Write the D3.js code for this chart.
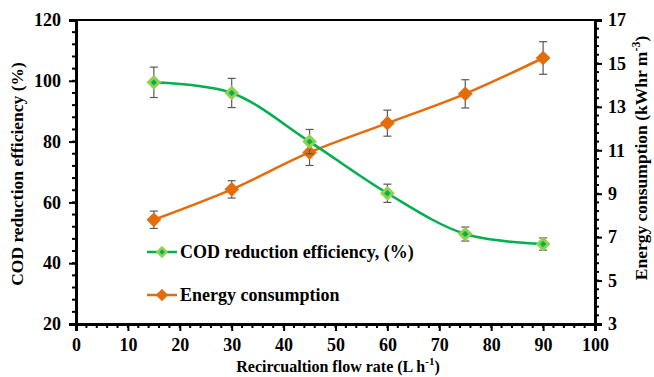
<!DOCTYPE html>
<html>
<head>
<meta charset="utf-8">
<script src="https://cdn.jsdelivr.net/npm/d3@7"></script>
<style>
  body { margin: 0; background: #fff; }
  text { font-family: "Liberation Serif", "Times New Roman", serif; font-weight: bold; }
</style>
</head>
<body>
<svg id="chart" width="654" height="377"></svg>
<script>
// flow rate (L h-1)
var flowRates = [15, 30, 45, 60, 75, 90];
// COD reduction efficiency (%) and its error
var codValues = [99.5, 96, 80, 63, 49.6, 46.3];
var codErrors = [5, 4.8, 4, 3, 2.3, 2];
// energy consumption (kWhr m-3) and its error
var energyValues = [7.8, 9.2, 10.9, 12.25, 13.6, 15.25];
var energyErrors = [0.4, 0.4, 0.6, 0.6, 0.65, 0.75];

var xTicks = [0, 10, 20, 30, 40, 50, 60, 70, 80, 90, 100];
var yLeftTicks = [20, 40, 60, 80, 100, 120];
var yRightTicks = [3, 5, 7, 9, 11, 13, 15, 17];

var margin = {left: 76, right: 59, top: 20, bottom: 53};
var width = 654, height = 377;
var svg = d3.select("#chart");

var x = d3.scaleLinear().domain([0, 100]).range([margin.left, width - margin.right]);
var yL = d3.scaleLinear().domain([20, 120]).range([height - margin.bottom, margin.top]);
var yR = d3.scaleLinear().domain([3, 17]).range([height - margin.bottom, margin.top]);

var green = "#00b050", lightGreen = "#92d050", orange = "#e46c0a", errGray = "#595959";

// top border
svg.append("line")
  .attr("x1", x(0)).attr("x2", x(100))
  .attr("y1", yL(120)).attr("y2", yL(120))
  .attr("stroke", "#000").attr("stroke-width", 2);

// minor ticks
var minorX = d3.range(0, 100.01, 2);
var minorL = d3.range(20, 120.01, 4);
var minorR = d3.range(3, 17.01, 0.4);

svg.append("g").selectAll("line").data(minorX).join("line")
  .attr("x1", function(d) { return x(d); }).attr("x2", function(d) { return x(d); })
  .attr("y1", yL(20)).attr("y2", yL(20) + 4)
  .attr("stroke", "#000").attr("stroke-width", 2);
svg.append("g").selectAll("line").data(minorL).join("line")
  .attr("x1", x(0) - 4).attr("x2", x(0))
  .attr("y1", function(d) { return yL(d); }).attr("y2", function(d) { return yL(d); })
  .attr("stroke", "#000").attr("stroke-width", 2);
svg.append("g").selectAll("line").data(minorR).join("line")
  .attr("x1", x(100)).attr("x2", x(100) + 4)
  .attr("y1", function(d) { return yR(d); }).attr("y2", function(d) { return yR(d); })
  .attr("stroke", "#000").attr("stroke-width", 2);

// axes
var xAxis = svg.append("g")
  .attr("transform", "translate(0," + yL(20) + ")")
  .call(d3.axisBottom(x).tickValues(xTicks).tickSize(7).tickPadding(7));
var yAxisL = svg.append("g")
  .attr("transform", "translate(" + x(0) + ",0)")
  .call(d3.axisLeft(yL).tickValues(yLeftTicks).tickSize(7).tickPadding(8));
var yAxisR = svg.append("g")
  .attr("transform", "translate(" + x(100) + ",0)")
  .call(d3.axisRight(yR).tickValues(yRightTicks).tickSize(7).tickPadding(6));

[xAxis, yAxisL, yAxisR].forEach(function(a) {
  a.select(".domain").attr("stroke", "#000").attr("stroke-width", 3);
  a.selectAll(".tick line").attr("stroke", "#000").attr("stroke-width", 2);
  a.selectAll(".tick text")
    .attr("fill", "#000")
    .style("font-family", "Liberation Serif, serif")
    .style("font-weight", "bold")
    .style("font-size", "18px");
});

// axis titles
svg.append("text")
  .attr("transform", "translate(23,174) rotate(-90)")
  .attr("text-anchor", "middle")
  .style("font-size", "17.5px")
  .text("COD reduction efficiency (%)");

var rt = svg.append("text")
  .attr("transform", "translate(647,158) rotate(-90)")
  .attr("text-anchor", "middle")
  .style("font-size", "17.5px");
rt.append("tspan").text("Energy consumption (kWhr m");
rt.append("tspan").attr("dy", -7).style("font-size", "12px").text("-3");
rt.append("tspan").attr("dy", 7).text(")");

var xt = svg.append("text")
  .attr("x", 338).attr("y", 372)
  .attr("text-anchor", "middle")
  .style("font-size", "16px");
xt.append("tspan").text("Recircualtion flow rate (L h");
xt.append("tspan").attr("dy", -7).style("font-size", "11px").text("-1");
xt.append("tspan").attr("dy", 7).text(")");

var codData = flowRates.map(function(f, i) { return {x: f, y: codValues[i], e: codErrors[i]}; });
var enData = flowRates.map(function(f, i) { return {x: f, y: energyValues[i], e: energyErrors[i]}; });

var diamond = d3.symbol().type(d3.symbolDiamond2);

drawSeries = function(data, ys, lineColor, fill, stroke, size) {
  var line = d3.line()
    .x(function(d) { return x(d.x); })
    .y(function(d) { return ys(d.y); })
    .curve(d3.curveCatmullRom.alpha(0.5));
  svg.append("path").datum(data)
    .attr("d", line)
    .attr("fill", "none")
    .attr("stroke", lineColor)
    .attr("stroke-width", 2.5);

  var eb = svg.append("g").selectAll("g").data(data).join("g");
  eb.append("line")
    .attr("x1", function(d) { return x(d.x); }).attr("x2", function(d) { return x(d.x); })
    .attr("y1", function(d) { return ys(d.y + d.e); }).attr("y2", function(d) { return ys(d.y - d.e); })
    .attr("stroke", errGray).attr("stroke-width", 1.2);
  [1, -1].forEach(function(s) {
    eb.append("line")
      .attr("x1", function(d) { return x(d.x) - 4; }).attr("x2", function(d) { return x(d.x) + 4; })
      .attr("y1", function(d) { return ys(d.y + s * d.e); }).attr("y2", function(d) { return ys(d.y + s * d.e); })
      .attr("stroke", errGray).attr("stroke-width", 1.2);
  });

  svg.append("g").selectAll("path").data(data).join("path")
    .attr("d", diamond.size(size))
    .attr("transform", function(d) { return "translate(" + x(d.x) + "," + ys(d.y) + ")"; })
    .attr("fill", fill)
    .attr("stroke", stroke)
    .attr("stroke-width", 3);
}

drawSeries(enData, yR, orange, orange, orange, 70);
drawSeries(codData, yL, green, green, lightGreen, 70);

// legend
var legendItems = [
  {label: "COD reduction efficiency, (%)", color: green, fill: green, stroke: lightGreen, y: 252},
  {label: "Energy consumption", color: orange, fill: orange, stroke: orange, y: 295}
];
var lg = svg.append("g").selectAll("g").data(legendItems).join("g");
lg.append("line")
  .attr("x1", 147).attr("x2", 177)
  .attr("y1", function(d) { return d.y; }).attr("y2", function(d) { return d.y; })
  .attr("stroke", function(d) { return d.color; })
  .attr("stroke-width", 2.5);
lg.append("path")
  .attr("d", diamond.size(50))
  .attr("transform", function(d) { return "translate(162," + d.y + ")"; })
  .attr("fill", function(d) { return d.fill; })
  .attr("stroke", function(d) { return d.stroke; })
  .attr("stroke-width", 2.5);
lg.append("text")
  .attr("x", 180)
  .attr("y", function(d) { return d.y + 6; })
  .style("font-size", "18px")
  .text(function(d) { return d.label; });
</script>
</body>
</html>
